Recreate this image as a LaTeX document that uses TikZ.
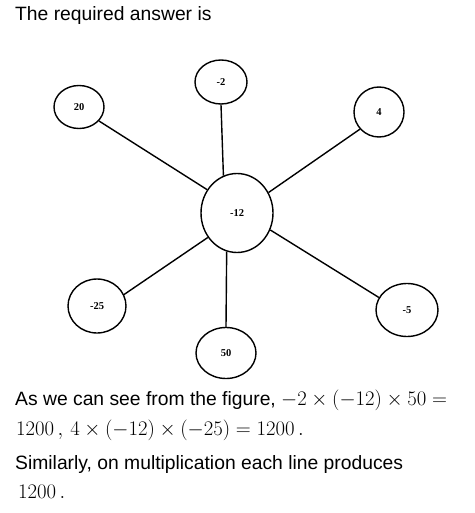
\documentclass[tikz,border=0pt]{standalone}
\usepackage[no-math]{fontspec}
\setmainfont{Liberation Sans}
\newfontfamily\labelfont{Liberation Serif}
\usetikzlibrary{shapes.geometric, positioning}
\newcommand{\mathsize}{\fontsize{20.5}{24}\selectfont}

\begin{document}
\begin{tikzpicture}[
    x=1pt, y=-1pt,
    num/.style={ellipse, draw, line width=1.4pt, inner sep=0pt, font=\labelfont\bfseries\fontsize{10.5}{12}\selectfont},
    link/.style={line width=1.4pt},
    txt/.style={anchor=base west, inner sep=0pt, font=\fontsize{19.3}{22}\selectfont}
]
    \useasboundingbox (0,0) rectangle (474,513);
    \node[txt] (title) at (15,21) {The required answer is};

    \node[num, minimum width=72pt, minimum height=79pt] (mid) at (237,213) {-12};
    \node[num, minimum width=52pt, minimum height=44pt] (top) at (221,82) {-2};
    \node[num, minimum width=50pt, minimum height=43pt] (nw) at (79,107) {20};
    \node[num, minimum width=50pt, minimum height=50pt] (ne) at (379,112) {4};
    \node[num, minimum width=58pt, minimum height=54pt] (sw) at (97,306) {-25};
    \node[num, minimum width=62pt, minimum height=53pt] (se) at (407,310) {-5};
    \node[num, minimum width=60pt, minimum height=51pt] (bot) at (226,353) {50};

    \draw[link] (top.south) -- (mid.110);
    \draw[link] (nw.-35) -- (mid.142);
    \draw[link] (ne.222) -- (mid.33);
    \draw[link] (se.156) -- (mid.-27);
    \draw[link] (sw.23) -- (mid.220);
    \draw[link] (bot.north) -- (mid.255);

    \node[txt] (line1) at (15,405) {As we can see from the figure, {\mathsize$-2\times(-12)\times50=$}};
    \node[txt] (line2) at (16,435) {\mathsize$1200\,,\,4\times(-12)\times(-25)=1200\,.$};
    \node[txt] (line3) at (15,469) {Similarly, on multiplication each line produces};
    \node[txt] (line4) at (18,498) {\mathsize$1200\,.$};
\end{tikzpicture}
\end{document}
